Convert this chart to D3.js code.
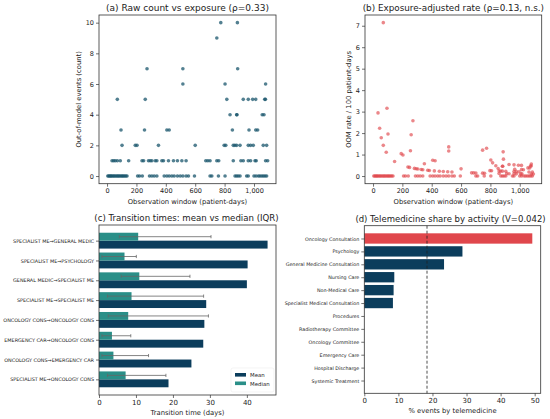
<!DOCTYPE html>
<html>
<head>
<meta charset="utf-8">
<script src="https://cdnjs.cloudflare.com/ajax/libs/d3/7.8.5/d3.min.js"></script>
<style>
  body { margin: 0; background: #fff; }
  text { font-family: "DejaVu Sans", sans-serif; fill: #222; }
</style>
</head>
<body>
<script>
// (a)/(b) patients: observation window and number of out-of-model events
var exposureDays = [
  5, 12, 18, 25, 30, 38, 45, 52, 60, 68, 75, 82, 90, 98, 105, 112, 120, 128, 136,
  208, 221, 240, 289, 305, 321, 339, 389, 407, 423, 441, 457, 479, 498, 516, 538, 554,
  595, 701, 713, 758, 803, 871, 882, 893, 905, 950, 961, 1000, 1014, 1030, 1041, 1053, 1064, 1075, 1086,
  34, 45, 56, 70, 90, 147, 238, 249, 282, 294, 305, 328, 339, 373, 384, 418, 452, 479, 509, 538,
  672, 686, 701, 747, 760, 859, 911, 927, 961, 977, 1007, 1015, 1079, 1093,
  102, 192, 204, 350, 600, 797, 808, 859, 870, 882, 905, 961, 977, 995, 1063, 1086,
  95, 255, 407, 423, 853, 966, 1012, 1025,
  837, 882, 884, 1056, 1068,
  70, 260, 815, 927, 961, 991, 1012, 1073, 1078,
  516, 803, 1079,
  272, 516, 889,
  747,
  774, 887
];
var oomCount = [
  0, 0, 0, 0, 0, 0, 0, 0, 0, 0, 0, 0, 0, 0, 0, 0, 0, 0, 0,
  0, 0, 0, 0, 0, 0, 0, 0, 0, 0, 0, 0, 0, 0, 0, 0, 0,
  0, 0, 0, 0, 0, 0, 0, 0, 0, 0, 0, 0, 0, 0, 0, 0, 0, 0, 0,
  1, 1, 1, 1, 1, 1, 1, 1, 1, 1, 1, 1, 1, 1, 1, 1, 1, 1, 1, 1,
  1, 1, 1, 1, 1, 1, 1, 1, 1, 1, 1, 1, 1, 1,
  2, 2, 2, 2, 2, 2, 2, 2, 2, 2, 2, 2, 2, 2, 2, 2,
  3, 3, 3, 3, 3, 3, 3, 3,
  4, 4, 4, 4, 4,
  5, 5, 5, 5, 5, 5, 5, 5, 5,
  6, 6, 6,
  7, 7, 7,
  9,
  10, 10
];

// (c) transition times
var transitions = [
  "SPECIALIST ME\u2192GENERAL MEDIC",
  "SPECIALIST ME\u2192PSYCHOLOGY",
  "GENERAL MEDIC\u2192SPECIALIST ME",
  "SPECIALIST ME\u2192SPECIALIST ME",
  "ONCOLOGY CONS\u2192ONCOLOGY CONS",
  "EMERGENCY CAR\u2192ONCOLOGY CONS",
  "ONCOLOGY CONS\u2192EMERGENCY CAR",
  "SPECIALIST ME\u2192ONCOLOGY CONS"
];
var meanDays = [45.6, 40.2, 40.0, 29.0, 28.5, 28.2, 25.0, 18.8];
var medianDays = [10.6, 6.9, 10.9, 8.8, 7.9, 3.5, 3.9, 7.2];
var iqrLow = [5.5, 0.8, 6.0, 2.3, 2.5, 0.8, 0.8, 2.3];
var iqrHigh = [30.3, 10.1, 24.6, 28.3, 29.6, 8.6, 13.4, 18.1];

// (d) telemedicine share
var activities = [
  "Oncology Consultation", "Psychology", "General Medicine Consultation", "Nursing Care",
  "Non-Medical Care", "Specialist Medical Consultation", "Procedures", "Radiotherapy Committee",
  "Oncology Committee", "Emergency Care", "Hospital Discharge", "Systemic Treatment"
];
var teleShare = [49.3, 28.8, 23.4, 8.8, 8.6, 8.4, 0, 0, 0, 0, 0, 0];
var overallShare = [18.4];

var navy = '#0b3d5c', teal = '#2a8f88', red = '#e0474c';
var tickFont = 6.5, labFont = 6.8;

var svg = d3.select('body').append('svg')
    .attr('width', 550)
    .attr('height', 419);

function panel(x, y) {
    return svg.append('g').attr('transform', 'translate(' + x + ',' + y + ')');
}

function frame(g, w, h) {
    g.append('rect')
        .attr('width', w).attr('height', h)
        .attr('fill', 'none')
        .attr('stroke', '#333')
        .attr('stroke-width', 0.8);
}

function styleAxis(sel, fs) {
    sel.select('.domain').remove();
    sel.selectAll('line').attr('stroke', '#333').attr('stroke-width', 0.7);
    sel.selectAll('text').style('font-size', fs + 'px').attr('fill', '#222');
}

function title(g, x, t, fs) {
    g.append('text')
        .attr('x', x).attr('y', -4)
        .attr('text-anchor', 'middle')
        .style('font-size', fs + 'px')
        .text(t);
}

function xLabel(g, w, h, t, dy) {
    g.append('text')
        .attr('x', w / 2).attr('y', h + dy)
        .attr('text-anchor', 'middle')
        .style('font-size', labFont + 'px')
        .text(t);
}

function yLabel(g, h, t, dx) {
    g.append('text')
        .attr('transform', 'translate(' + dx + ',' + (h / 2) + ') rotate(-90)')
        .attr('text-anchor', 'middle')
        .style('font-size', labFont + 'px')
        .text(t);
}

var pts = exposureDays.map(function(d, i) {
    return { days: d, count: oomCount[i], rate: oomCount[i] / d * 100 };
});

// ---- (a) raw count vs exposure
(function() {
    var w = 177, h = 168.7;
    var g = panel(99, 15);
    var x = d3.scaleLinear().domain([-54.75, 1149.75]).range([0, w]);
    var y = d3.scaleLinear().domain([-0.5, 10.5]).range([h, 0]);
    g.selectAll('circle').data(pts).enter().append('circle')
        .attr('cx', function(d) { return x(d.days); })
        .attr('cy', function(d) { return y(d.count); })
        .attr('r', 1.8)
        .attr('fill', '#1a566c')
        .attr('fill-opacity', 0.75);
    frame(g, w, h);
    g.append('g').attr('transform', 'translate(0,' + h + ')')
        .call(d3.axisBottom(x).tickValues([0, 200, 400, 600, 800, 1000]).tickSize(3).tickPadding(2))
        .call(styleAxis, tickFont);
    g.append('g')
        .call(d3.axisLeft(y).tickValues([0, 2, 4, 6, 8, 10]).tickSize(3).tickPadding(2))
        .call(styleAxis, tickFont);
    title(g, w / 2, '(a) Raw count vs exposure (\u03c1=0.33)', 9);
    xLabel(g, w, h, 'Observation window (patient-days)', 20);
    yLabel(g, h, 'Out-of-model events (count)', -18);
})();

// ---- (b) exposure-adjusted rate
(function() {
    var w = 176.7, h = 168.7;
    var g = panel(365, 15);
    var maxRate = d3.max(pts, function(d) { return d.rate; });
    var x = d3.scaleLinear().domain([-54.75, 1149.75]).range([0, w]);
    var y = d3.scaleLinear().domain([-0.05 * maxRate, maxRate * 1.05]).range([h, 0]);
    g.selectAll('circle').data(pts).enter().append('circle')
        .attr('cx', function(d) { return x(d.days); })
        .attr('cy', function(d) { return y(d.rate); })
        .attr('r', 1.8)
        .attr('fill', red)
        .attr('fill-opacity', 0.65);
    frame(g, w, h);
    g.append('g').attr('transform', 'translate(0,' + h + ')')
        .call(d3.axisBottom(x).tickValues([0, 200, 400, 600, 800, 1000]).tickSize(3).tickPadding(2))
        .call(styleAxis, tickFont);
    g.append('g')
        .call(d3.axisLeft(y).tickValues([0, 1, 2, 3, 4, 5, 6, 7]).tickSize(3).tickPadding(2))
        .call(styleAxis, tickFont);
    title(g, w / 2, '(b) Exposure-adjusted rate (\u03c1=0.13, n.s.)', 8.8);
    xLabel(g, w, h, 'Observation window (patient-days)', 20);
    yLabel(g, h, 'OOM rate / 100 patient-days', -14);
})();

// ---- (c) transition times
(function() {
    var w = 177, h = 170;
    var g = panel(99, 225);
    var n = transitions.length;
    var x = d3.scaleLinear().domain([0, d3.max(meanDays) * 1.05]).range([0, w]);
    var y = d3.scaleLinear().domain([-0.79, n - 1 + 0.79]).range([0, h]);
    var bh = y(0.4) - y(0);

    g.selectAll('rect.mean').data(meanDays).enter().append('rect')
        .attr('x', 0)
        .attr('y', function(d, i) { return y(i); })
        .attr('width', function(d) { return x(d); })
        .attr('height', bh)
        .attr('fill', navy);
    g.selectAll('rect.med').data(medianDays).enter().append('rect')
        .attr('x', 0)
        .attr('y', function(d, i) { return y(i - 0.4); })
        .attr('width', function(d) { return x(d); })
        .attr('height', bh)
        .attr('fill', teal);

    var eb = g.selectAll('g.eb').data(iqrLow).enter().append('g')
        .attr('stroke', '#666').attr('stroke-width', 0.8);
    eb.append('line')
        .attr('x1', function(d) { return x(d); })
        .attr('x2', function(d, i) { return x(iqrHigh[i]); })
        .attr('y1', function(d, i) { return y(i - 0.2); })
        .attr('y2', function(d, i) { return y(i - 0.2); });
    eb.append('line')
        .attr('x1', function(d) { return x(d); })
        .attr('x2', function(d) { return x(d); })
        .attr('y1', function(d, i) { return y(i - 0.2) - 1.6; })
        .attr('y2', function(d, i) { return y(i - 0.2) + 1.6; });
    eb.append('line')
        .attr('x1', function(d, i) { return x(iqrHigh[i]); })
        .attr('x2', function(d, i) { return x(iqrHigh[i]); })
        .attr('y1', function(d, i) { return y(i - 0.2) - 1.6; })
        .attr('y2', function(d, i) { return y(i - 0.2) + 1.6; });

    frame(g, w, h);
    g.append('g').attr('transform', 'translate(0,' + h + ')')
        .call(d3.axisBottom(x).tickValues([0, 10, 20, 30, 40]).tickSize(3).tickPadding(2))
        .call(styleAxis, 7);
    g.append('g')
        .call(d3.axisLeft(y).tickValues(d3.range(n)).tickFormat(function(i) { return transitions[i]; })
            .tickSize(3).tickPadding(2))
        .call(styleAxis, 4.9);

    // legend
    var lg = g.append('g').attr('transform', 'translate(' + (w - 45) + ',' + (h - 27) + ')');
    lg.append('rect').attr('width', 43).attr('height', 24).attr('rx', 2)
        .attr('fill', '#fff').attr('fill-opacity', 0.8).attr('stroke', '#ececec').attr('stroke-width', 0.6);
    [['Mean', navy], ['Median', teal]].forEach(function(d, i) {
        lg.append('rect').attr('x', 4).attr('y', 5 + i * 8.5).attr('width', 11).attr('height', 3.6).attr('fill', d[1]);
        lg.append('text').attr('x', 19).attr('y', 9 + i * 8.5).style('font-size', '5.4px').text(d[0]);
    });

    title(g, w / 2 - 1, '(c) Transition times: mean vs median (IQR)', 8.6);
    xLabel(g, w, h, 'Transition time (days)', 19.5);
})();

// ---- (d) telemedicine share
(function() {
    var w = 176.4, h = 167.6;
    var g = panel(364.3, 225.7);
    var n = activities.length;
    var x = d3.scaleLinear().domain([0, d3.max(teleShare) * 1.05]).range([0, w]);
    var y = d3.scaleLinear().domain([-0.99, n - 1 + 0.99]).range([0, h]);
    var bh = y(0.8) - y(0);

    g.selectAll('rect.bar').data(teleShare).enter().append('rect')
        .attr('x', 0)
        .attr('y', function(d, i) { return y(i - 0.4); })
        .attr('width', function(d) { return x(d); })
        .attr('height', bh)
        .attr('fill', function(d, i) { return i === 0 ? red : navy; });

    g.selectAll('line.avg').data(overallShare).enter().append('line')
        .attr('x1', function(d) { return x(d); })
        .attr('x2', function(d) { return x(d); })
        .attr('y1', 0).attr('y2', h)
        .attr('stroke', '#222').attr('stroke-width', 0.8)
        .attr('stroke-dasharray', '3,2');

    frame(g, w, h);
    g.append('g').attr('transform', 'translate(0,' + h + ')')
        .call(d3.axisBottom(x).tickValues([0, 10, 20, 30, 40, 50]).tickSize(3).tickPadding(2))
        .call(styleAxis, 7);
    g.append('g')
        .call(d3.axisLeft(y).tickValues(d3.range(n)).tickFormat(function(i) { return activities[i]; })
            .tickSize(3).tickPadding(2))
        .call(styleAxis, 4.8);
    title(g, w / 2 - 2, '(d) Telemedicine share by activity (V=0.042)', 8.5);
    xLabel(g, w, h, '% events by telemedicine', 19.5);
})();
</script>
</body>
</html>
